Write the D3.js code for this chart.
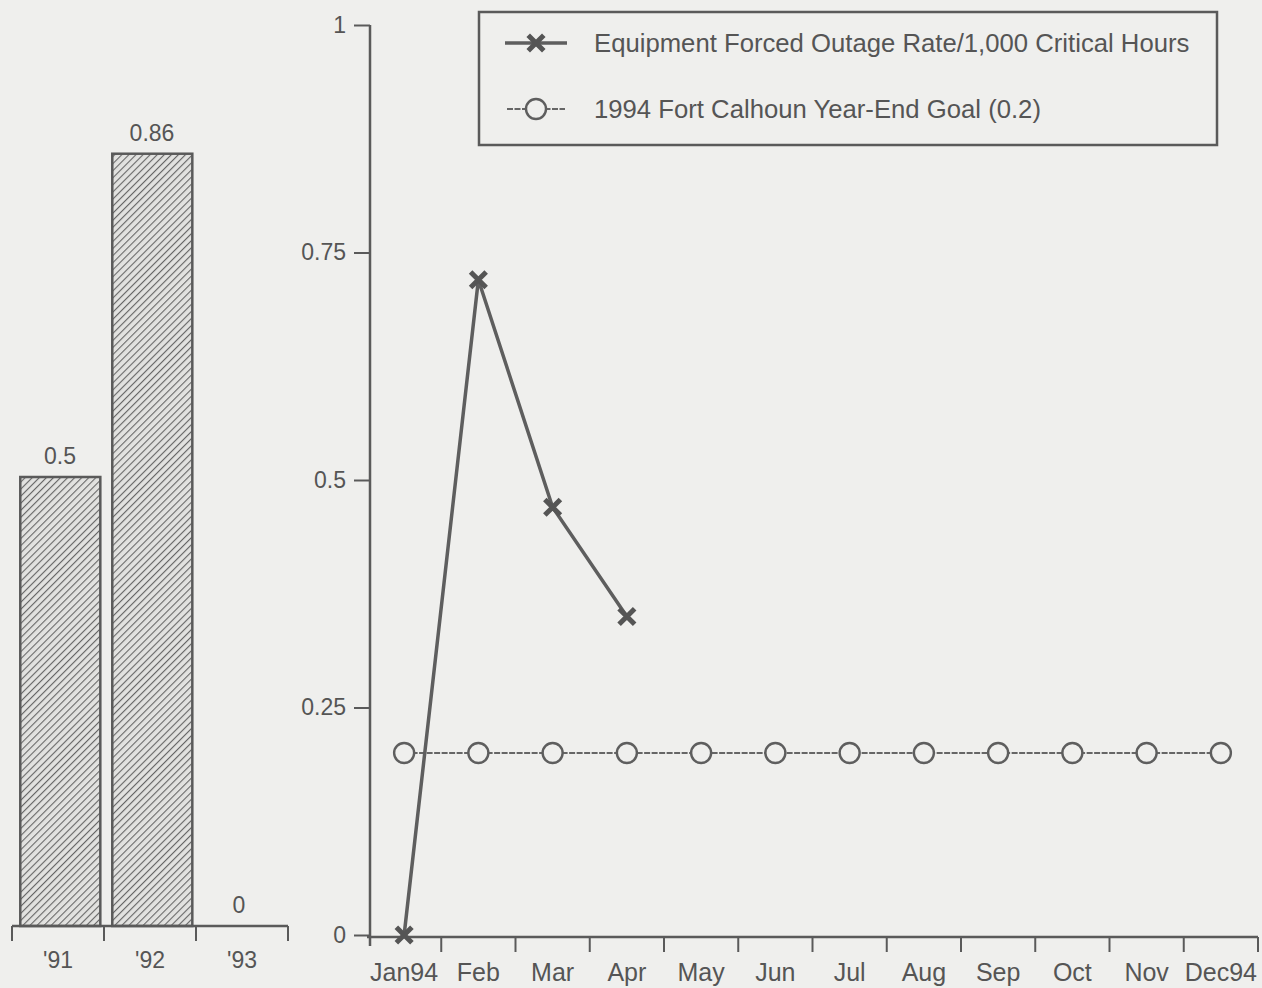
<!DOCTYPE html>
<html><head><meta charset="utf-8">
<script src="https://cdn.jsdelivr.net/npm/d3@7"></script>
<style>
html,body{margin:0;padding:0;background:#efefed;}
svg{display:block;}
text{font-family:"Liberation Sans",Arial,sans-serif;fill:#555;}
</style></head><body>
<svg id="c" width="1262" height="988"></svg>
<script>
// ---- data ----
const barYears = ["'91", "'92", "'93"];
const barValues = [0.5, 0.86, 0];
const barLabels = ["0.5", "0.86", "0"];
const months = ["Jan94","Feb","Mar","Apr","May","Jun","Jul","Aug","Sep","Oct","Nov","Dec94"];
const outageRate = [0, 0.72, 0.47, 0.35];
const goalValues = [0.2,0.2,0.2,0.2,0.2,0.2,0.2,0.2,0.2,0.2,0.2,0.2];
const yTicks = [0, 0.25, 0.5, 0.75, 1];
const yTickLabels = ["0","0.25","0.5","0.75","1"];
const legendLabels = ["Equipment Forced Outage Rate/1,000 Critical Hours","1994 Fort Calhoun Year-End Goal (0.2)"];

const svg = d3.select("#c");
const ink = "#5a5a5a";
const FONT = "Liberation Sans, Arial, sans-serif";

// hatch pattern
const defs = svg.append("defs");
const pat = defs.append("pattern").attr("id","hatch").attr("patternUnits","userSpaceOnUse")
  .attr("width",5).attr("height",5).attr("patternTransform","rotate(45)");
pat.append("rect").attr("width",5).attr("height",5).attr("fill","#e2e2e0");
pat.append("line").attr("x1",0).attr("y1",0).attr("x2",0).attr("y2",5).attr("stroke","#666").attr("stroke-width",2.2);

// ---- left bar chart ----
const bx = d3.scaleBand().domain(barYears).range([12, 288]).padding(0);
const by = d3.scaleLinear().domain([0, 1]).range([926, 28]);
const bw = bx.bandwidth();
svg.append("g").selectAll("rect").data(barValues.map((v,i)=>({v, k:barYears[i]}))).join("rect")
  .filter(d => d.v > 0)
  .attr("x", d => bx(d.k) + bw*0.09)
  .attr("y", d => by(d.v))
  .attr("width", bw*0.87)
  .attr("height", d => by(0) - by(d.v))
  .attr("fill","url(#hatch)").attr("stroke",ink).attr("stroke-width",2.5);
svg.append("g").selectAll("text").data(barValues).join("text")
  .attr("x",(d,i)=>bx(barYears[i]) + bw/2 + (i===2 ? -3 : 2))
  .attr("y",d=>by(d)-13)
  .attr("text-anchor","middle").attr("font-size",23)
  .text((d,i)=>barLabels[i]);
const bax = svg.append("g").attr("transform","translate(0,926)")
  .call(d3.axisBottom(bx).tickSize(0).tickPadding(26));
bax.select(".domain").remove();
bax.selectAll("text").attr("font-size",23).attr("font-family",FONT).attr("fill","#555");
svg.append("line").attr("x1",12).attr("x2",288).attr("y1",926).attr("y2",926).attr("stroke",ink).attr("stroke-width",2.5);
svg.append("g").selectAll("line").data(d3.range(barYears.length+1)).join("line")
  .attr("x1",i=> i<barYears.length ? bx(barYears[i]) : bx(barYears[i-1])+bw)
  .attr("x2",i=> i<barYears.length ? bx(barYears[i]) : bx(barYears[i-1])+bw)
  .attr("y1",926).attr("y2",941).attr("stroke",ink).attr("stroke-width",2);

// ---- right line chart ----
const x = d3.scaleBand().domain(months).range([367, 1258]);
const y = d3.scaleLinear().domain([0, 1]).range([935, 25]);
const xc = m => x(m) + x.bandwidth()/2;

// y axis
const yax = svg.append("g").attr("transform","translate(370,0)")
  .call(d3.axisLeft(y).tickValues(yTicks).tickFormat((d,i)=>yTickLabels[i]).tickSize(16).tickPadding(8).tickSizeOuter(0));
yax.select(".domain").attr("stroke",ink).attr("stroke-width",2.5).attr("d","M0,25V946");
yax.selectAll(".tick line").attr("stroke",ink).attr("stroke-width",2);
yax.selectAll("text").attr("font-size",23).attr("font-family",FONT).attr("fill","#555");

// x axis
const xax = svg.append("g").attr("transform","translate(0,937)")
  .call(d3.axisBottom(x).tickSize(0).tickPadding(26));
xax.select(".domain").attr("stroke",ink).attr("stroke-width",2.5).attr("d","M367,0H1258");
xax.selectAll("text").attr("font-size",25).attr("font-family",FONT).attr("fill","#555");
svg.append("g").selectAll("line").data(d3.range(1, months.length+1)).join("line")
  .attr("x1",i=> i<months.length ? x(months[i]) : x(months[i-1])+x.bandwidth())
  .attr("x2",i=> i<months.length ? x(months[i]) : x(months[i-1])+x.bandwidth())
  .attr("y1",937).attr("y2",952).attr("stroke",ink).attr("stroke-width",2);

// goal line
svg.append("path").datum(goalValues)
  .attr("d", d3.line().x((d,i)=>xc(months[i])).y(d=>y(d)))
  .attr("fill","none").attr("stroke","#666").attr("stroke-width",2).attr("stroke-dasharray","6,1.5");
svg.append("g").selectAll("circle").data(goalValues).join("circle")
  .attr("cx",(d,i)=>xc(months[i])).attr("cy",d=>y(d)).attr("r",10)
  .attr("fill","#efefed").attr("stroke","#5e5e5e").attr("stroke-width",2.4);

// outage line
svg.append("path").datum(outageRate)
  .attr("d", d3.line().x((d,i)=>xc(months[i])).y(d=>y(d)))
  .attr("fill","none").attr("stroke","#5e5e5e").attr("stroke-width",3.5);
const xsym = d3.symbol().type(d3.symbolTimes).size(160);
svg.append("g").selectAll("path").data(outageRate).join("path")
  .attr("transform",(d,i)=>`translate(${xc(months[i])},${y(d)})`)
  .attr("d", xsym).attr("fill","none").attr("stroke","#555").attr("stroke-width",5);

// legend
const lg = svg.append("g");
lg.append("rect").attr("x",479).attr("y",12).attr("width",738).attr("height",133)
  .attr("fill","none").attr("stroke",ink).attr("stroke-width",2.5);
const ly = [43, 109];
lg.append("line").attr("x1",505).attr("x2",567).attr("y1",ly[0]).attr("y2",ly[0]).attr("stroke","#5e5e5e").attr("stroke-width",3.5);
lg.append("path").attr("transform",`translate(536,${ly[0]})`).attr("d",xsym).attr("fill","none").attr("stroke","#555").attr("stroke-width",5);
lg.append("line").attr("x1",507).attr("x2",565).attr("y1",ly[1]).attr("y2",ly[1]).attr("stroke","#666").attr("stroke-width",2).attr("stroke-dasharray","6,1.5");
lg.append("circle").attr("cx",536).attr("cy",ly[1]).attr("r",10).attr("fill","#efefed").attr("stroke","#5e5e5e").attr("stroke-width",2.4);
lg.selectAll("text.l").data(legendLabels).join("text").attr("class","l")
  .attr("x",594).attr("y",(d,i)=>ly[i]+9).attr("font-size",25.7).text(d=>d);
</script>
</body></html>
